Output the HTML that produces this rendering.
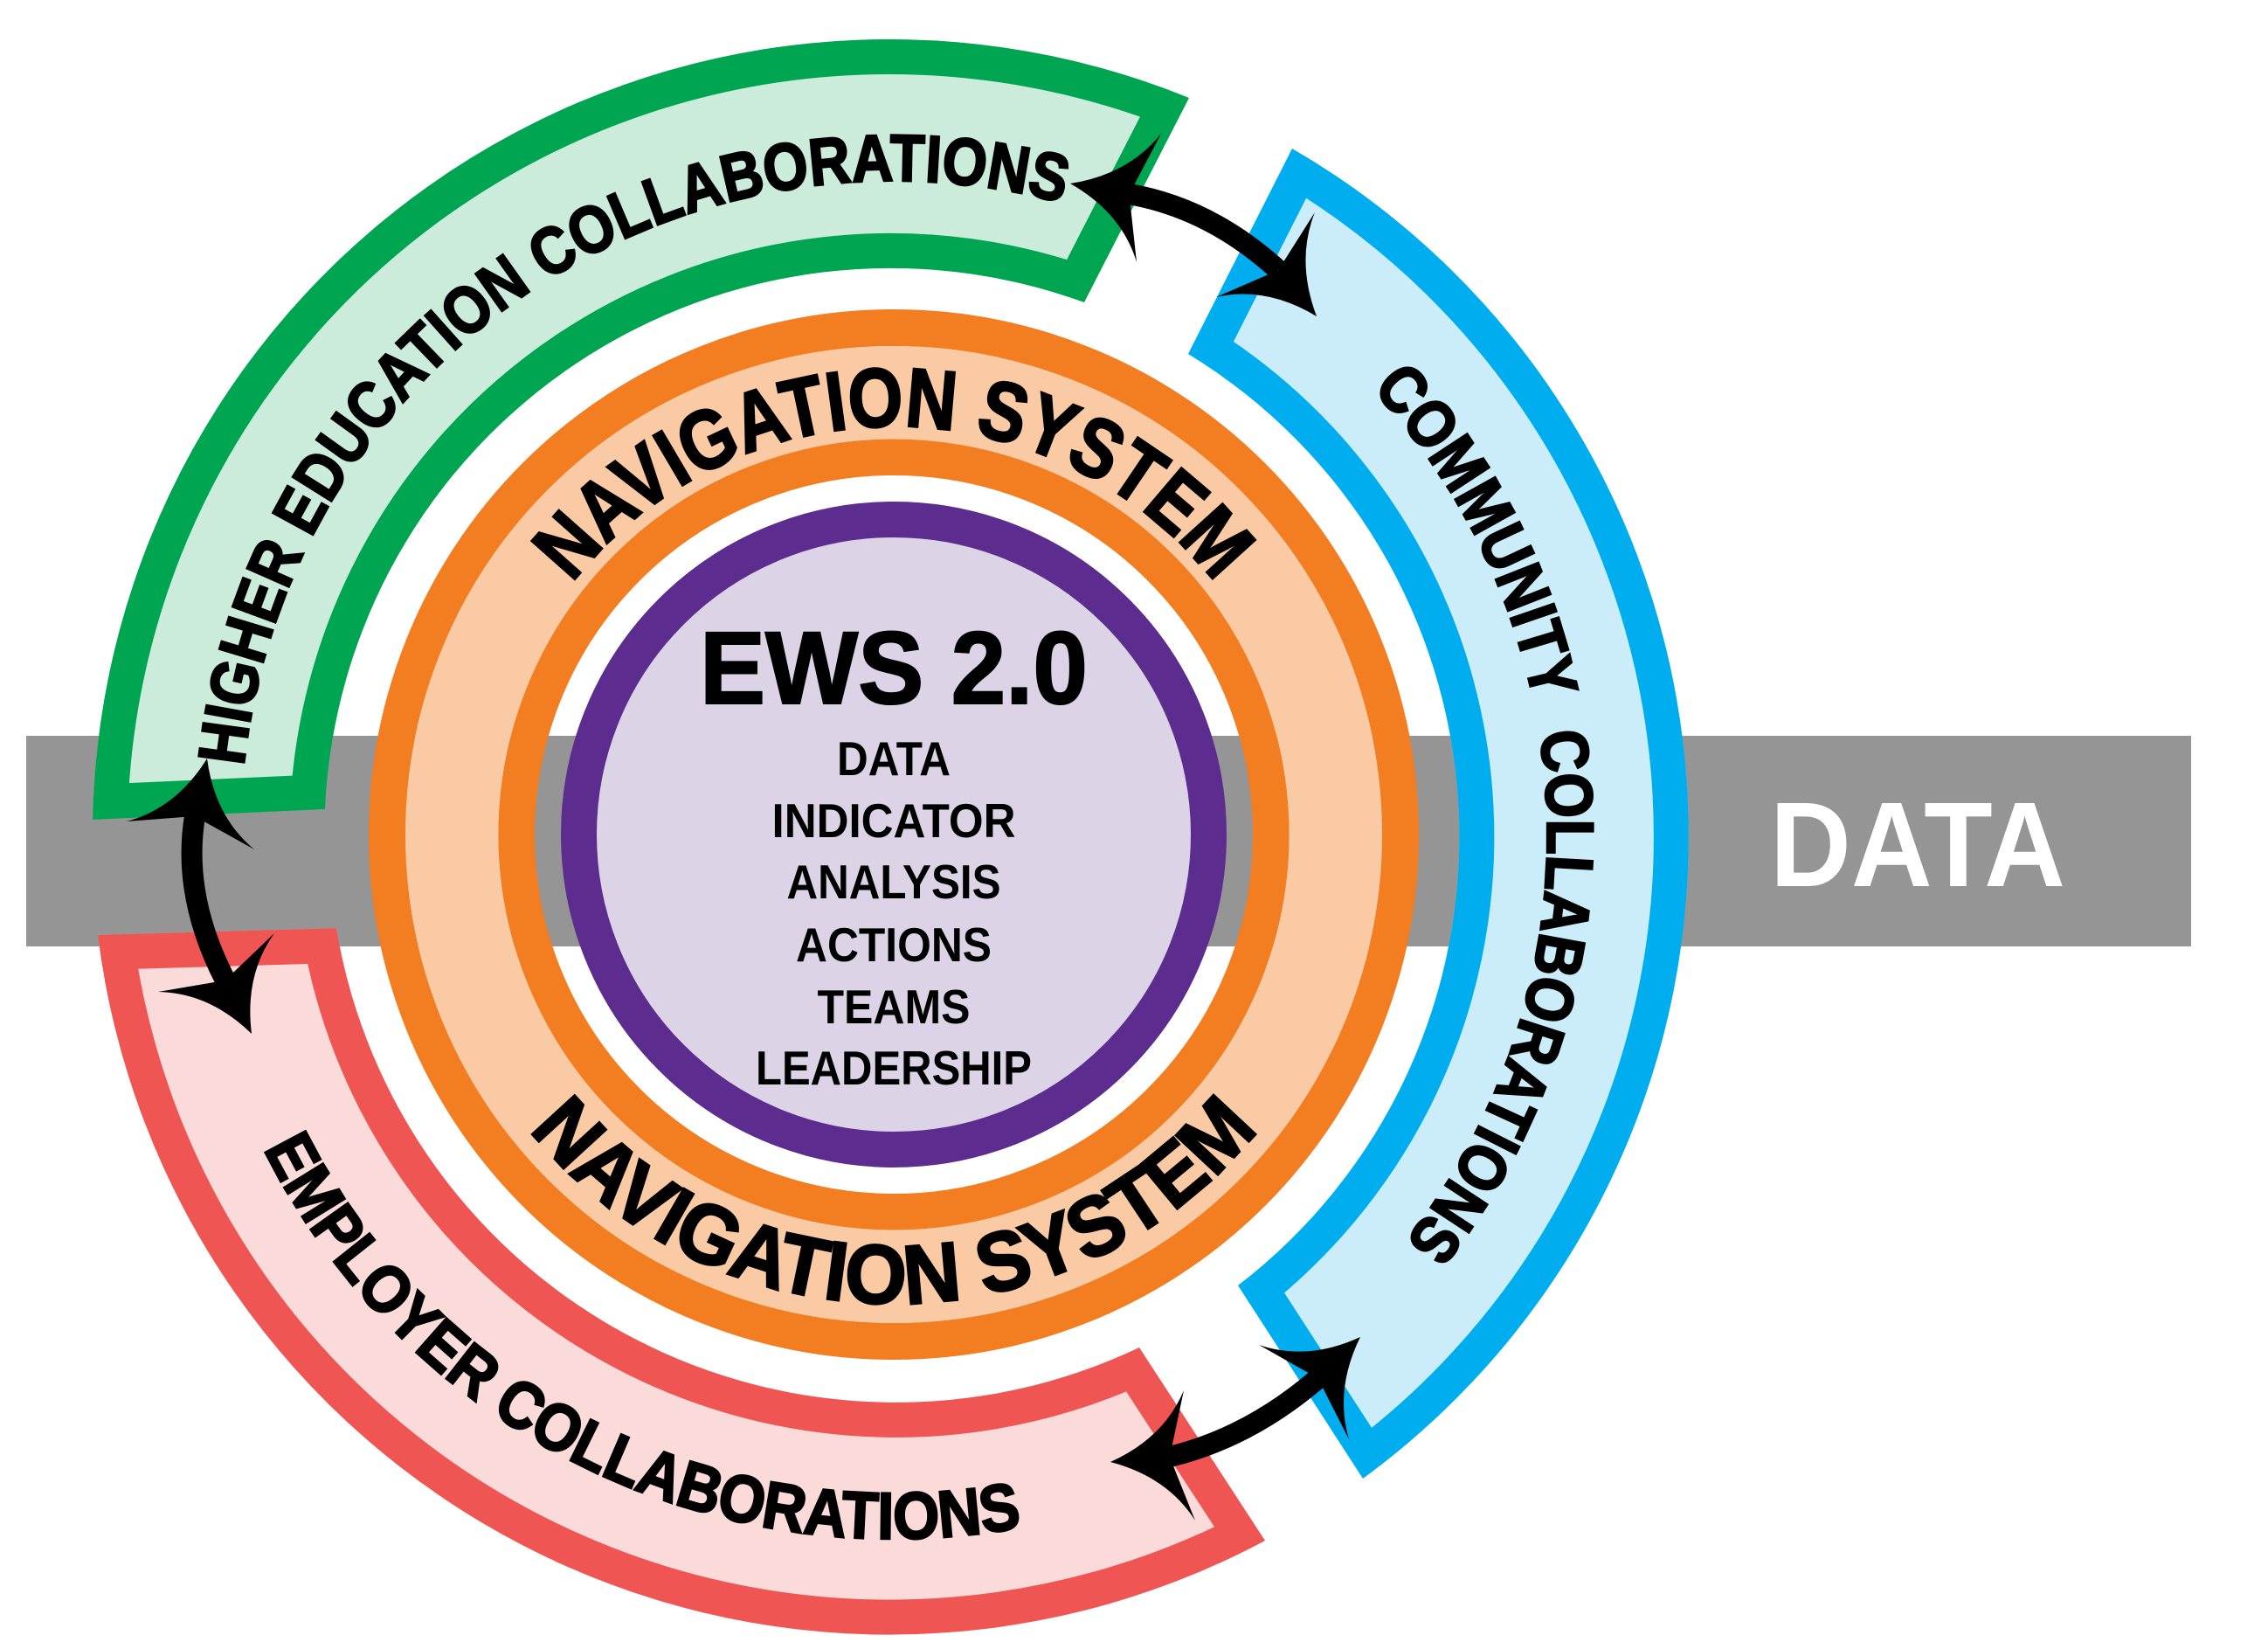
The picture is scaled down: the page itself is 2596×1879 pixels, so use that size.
<!DOCTYPE html>
<html><head><meta charset="utf-8">
<style>
html,body{margin:0;padding:0;background:#fff;}
svg{display:block;}
text{font-family:"Liberation Sans",sans-serif;font-weight:bold;}
</style></head>
<body>
<svg width="2596" height="1879" viewBox="0 0 2596 1879" xmlns="http://www.w3.org/2000/svg">
<defs>
<path id="pg" d="M106,938 A912,912 0 0 1 1361,112 L1241,346 A648,648 0 0 0 372,926 Z"/>
<path id="pb" d="M1479,170 A910,910 0 0 1 1560,1692 L1417,1471 A647,647 0 0 0 1360,405 Z"/>
<path id="pr" d="M1448,1763 A913,913 0 0 1 112,1070 L385,1062 A649,649 0 0 0 1304,1542 Z"/>
<clipPath id="cg"><use href="#pg"/></clipPath>
<clipPath id="cb"><use href="#pb"/></clipPath>
<clipPath id="cr"><use href="#pr"/></clipPath>
<path id="tg" d="M279.1,876.8 A748,748 0 0 1 1216.6,232.5"/>
<path id="tb" d="M1570.1,444.9 A748,748 0 0 1 1608.4,1420.6"/>
<path id="tr" d="M301.7,1314.6 A806,806 0 0 0 1169.9,1747.5"/>
<path id="tn1" d="M655,667.5 A467,467 0 0 1 1391,667.5"/>
<path id="tn2" d="M605.7,1292.9 A537,537 0 0 0 1440.3,1292.9"/>
</defs>

<rect x="30" y="842" width="2478" height="241" fill="#959595"/>
<text x="2195" y="1014" font-size="138" fill="#fff" text-anchor="middle" textLength="338" lengthAdjust="spacingAndGlyphs">DATA</text>

<use href="#pg" fill="#cbebdb" stroke="#00a551" stroke-width="80" clip-path="url(#cg)"/>
<use href="#pb" fill="#cbedf9" stroke="#00aeef" stroke-width="80" clip-path="url(#cb)"/>
<use href="#pr" fill="#fbdbda" stroke="#ef5552" stroke-width="80" clip-path="url(#cr)"/>

<circle cx="1023" cy="955" r="580" fill="none" stroke="#f37d21" stroke-width="42"/>
<circle cx="1023" cy="955" r="505.75" fill="none" stroke="#f9caa4" stroke-width="106.5"/>
<circle cx="1023" cy="955" r="431.75" fill="none" stroke="#f37d21" stroke-width="41.5"/>
<circle cx="1023" cy="955" r="360.5" fill="#ddd3e7" stroke="#5c2d8f" stroke-width="41"/>

<g fill="#000" stroke="#000" stroke-width="2.5">
<text font-size="76" textLength="1292" lengthAdjust="spacingAndGlyphs"><textPath href="#tg" textLength="1292" lengthAdjust="spacingAndGlyphs">HIGHER EDUCATION COLLABORATIONS</textPath></text>
<text font-size="76" textLength="1064" lengthAdjust="spacingAndGlyphs"><textPath href="#tb" textLength="1064" lengthAdjust="spacingAndGlyphs">COMMUNITY&#160; COLLABORATIONS</textPath></text>
<text font-size="76" textLength="1041" lengthAdjust="spacingAndGlyphs"><textPath href="#tr" textLength="1041" lengthAdjust="spacingAndGlyphs">EMPLOYER COLLABORATIONS</textPath></text>
<text font-size="96" textLength="847" lengthAdjust="spacingAndGlyphs"><textPath href="#tn1" textLength="847" lengthAdjust="spacingAndGlyphs">NAVIGATION SYSTEM</textPath></text>
<text font-size="96" textLength="956" lengthAdjust="spacingAndGlyphs"><textPath href="#tn2" textLength="956" lengthAdjust="spacingAndGlyphs">NAVIGATION SYSTEM</textPath></text>
</g>

<text x="1023" y="805" font-size="118" text-anchor="middle" textLength="444" lengthAdjust="spacingAndGlyphs" stroke="#000" stroke-width="2">EWS 2.0</text>
<g font-size="55" text-anchor="middle" fill="#000">
<text x="1023" y="887" textLength="130" lengthAdjust="spacingAndGlyphs">DATA</text>
<text x="1023" y="958" textLength="279" lengthAdjust="spacingAndGlyphs">INDICATOR</text>
<text x="1023" y="1028" textLength="245" lengthAdjust="spacingAndGlyphs">ANALYSIS</text>
<text x="1023" y="1100" textLength="224" lengthAdjust="spacingAndGlyphs">ACTIONS</text>
<text x="1023" y="1171" textLength="175" lengthAdjust="spacingAndGlyphs">TEAMS</text>
<text x="1023" y="1241" textLength="316" lengthAdjust="spacingAndGlyphs">LEADERSHIP</text>
</g>

<g fill="none" stroke="#000" stroke-width="24">
<path d="M1292,222 Q1385,238 1463,309"/>
<path d="M223,934 Q208,1025 258,1122"/>
<path d="M1339,1667 Q1430,1645 1509,1577"/>
</g>
<g fill="#000">
<path d="M1225,210 Q1292,199.5 1329,153 L1292.5,222.4 L1301,300 Q1284,243.6 1225,210 Z"/>
<path d="M1507,362 Q1483,298.1 1505,243 L1463.1,309.1 L1392,340 Q1449.1,327.2 1507,362 Z"/>
<path d="M237,868 Q201.8,924.8 145,940 L222.8,934 L291,972 Q245.6,934.4 237,868 Z"/>
<path d="M288,1183 Q239.7,1136 181,1135 L257.6,1121.9 L314,1068 Q279.6,1115.9 288,1183 Z"/>
<path d="M1271,1673 Q1332.4,1645.4 1355,1591 L1338.9,1667.4 L1368,1740 Q1336.3,1690.1 1271,1673 Z"/>
<path d="M1557,1530 Q1496.4,1557.9 1441,1539 L1508.6,1577.3 L1544,1647 Q1527.3,1590.3 1557,1530 Z"/>
</g>
</svg>
</body></html>
